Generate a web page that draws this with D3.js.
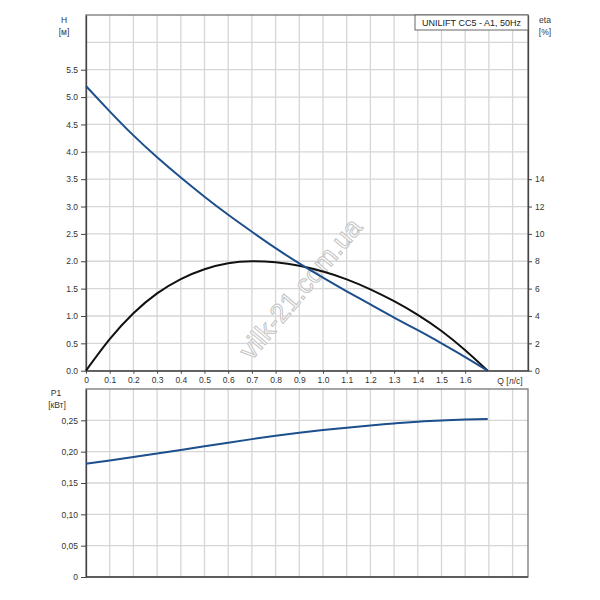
<!DOCTYPE html>
<html><head><meta charset="utf-8">
<script src="https://cdn.jsdelivr.net/npm/d3@7"></script>
<style>body{margin:0;background:#fff}svg{display:block}text{font-family:"Liberation Sans",Arial,sans-serif}</style>
</head><body>
<script>
const qH   = [0, 0.1, 0.2, 0.3, 0.4, 0.5, 0.6, 0.7, 0.8, 0.9, 1.0, 1.1, 1.2, 1.3, 1.4, 1.5, 1.6, 1.695];
const head = [5.2, 4.74, 4.3, 3.9, 3.53, 3.18, 2.85, 2.54, 2.24, 1.96, 1.70, 1.45, 1.21, 0.97, 0.74, 0.50, 0.25, 0];
const eta  = [0, 2.3, 4.2, 5.65, 6.7, 7.42, 7.86, 8.0, 7.92, 7.67, 7.25, 6.68, 5.95, 5.08, 4.08, 2.9, 1.5, 0];
const power = [0.1806, 0.186, 0.1915, 0.1971, 0.2028, 0.2086, 0.2144, 0.22, 0.2253, 0.2301, 0.2344, 0.2383, 0.2419, 0.2451, 0.2478, 0.2499, 0.2513, 0.2521];
const qTicks = [0, 0.1, 0.2, 0.3, 0.4, 0.5, 0.6, 0.7, 0.8, 0.9, 1.0, 1.1, 1.2, 1.3, 1.4, 1.5, 1.6];
const qGrid = [0.1,0.2,0.3,0.4,0.5,0.6,0.7,0.8,0.9,1.0,1.1,1.2,1.3,1.4,1.5,1.6,1.7,1.8];
const hTicks = [0, 0.5, 1.0, 1.5, 2.0, 2.5, 3.0, 3.5, 4.0, 4.5, 5.0, 5.5];
const hGrid = [0.5,1,1.5,2,2.5,3,3.5,4,4.5,5,5.5,6];
const etaTicks = [0, 2, 4, 6, 8, 10, 12, 14];
const pTicks = [0, 0.05, 0.10, 0.15, 0.20, 0.25];
const pLabels = ["0", "0,05", "0,10", "0,15", "0,20", "0,25"];
const title = "UNILIFT CC5 - A1, 50Hz";

const W = 600, H = 600;
const svg = d3.select("body").append("svg").attr("width", W).attr("height", H);
const L = 86, R = 528, T1 = 15, B1 = 370.7, T2 = 389, B2 = 577;
const x = d3.scaleLinear().domain([0, 1.865]).range([L, R]);
const yH = d3.scaleLinear().domain([0, 6.5]).range([B1, T1]);
const yE = d3.scaleLinear().domain([0, 26]).range([B1, T1]);
const yP = d3.scaleLinear().domain([0, 0.3]).range([B2, T2]);
const gridC = "#d6d6d6", axC = "#444", txtC = "#333", fs = 8.5;
const blue = "#1c4f8c";

function grid(top, bottom, yScale, yVals) {
  const g = svg.append("g");
  g.selectAll("line.v").data(qGrid).join("line")
    .attr("x1", d => x(d)).attr("x2", d => x(d)).attr("y1", top).attr("y2", bottom)
    .attr("stroke", gridC).attr("stroke-width", 1.3);
  g.selectAll("line.h").data(yVals).join("line")
    .attr("x1", L).attr("x2", R).attr("y1", d => yScale(d)).attr("y2", d => yScale(d))
    .attr("stroke", gridC).attr("stroke-width", 1.3);
  g.append("rect").attr("x", L).attr("y", top).attr("width", R - L).attr("height", bottom - top)
    .attr("fill", "none").attr("stroke", "#777").attr("stroke-width", 1.3);
}
grid(T1, B1, yH, hGrid);
grid(T2, B2, yP, [0.05, 0.1, 0.15, 0.2, 0.25]);

svg.append("text").attr("transform", "translate(302,290) rotate(-50)")
  .attr("text-anchor", "middle").attr("dominant-baseline", "middle")
  .attr("font-size", 27).attr("fill", "#fff").attr("stroke", "#c4c4c4").attr("stroke-width", 1)
  .text("vilk-21.com.ua");

function styleAxis(g) {
  g.selectAll(".domain").attr("stroke", axC).attr("stroke-width", 1.3);
  g.selectAll(".tick line").attr("stroke", axC);
  g.selectAll("text").attr("fill", txtC).attr("font-size", fs).attr("font-family", '"Liberation Sans",Arial,sans-serif');
}
svg.append("g").attr("transform", `translate(${L},0)`)
  .call(d3.axisLeft(yH).tickValues(hTicks).tickFormat(d3.format(".1f")).tickSize(5).tickPadding(3).tickSizeOuter(0))
  .call(styleAxis);
svg.append("g").attr("transform", `translate(${R},0)`)
  .call(d3.axisRight(yE).tickValues(etaTicks).tickFormat(d3.format("d")).tickSize(4).tickPadding(3).tickSizeOuter(0))
  .call(styleAxis);
svg.append("g").attr("transform", `translate(0,${B1})`)
  .call(d3.axisBottom(x).tickValues(qTicks).tickFormat(d => d === 0 ? "0" : d3.format(".1f")(d)).tickSize(3).tickPadding(3).tickSizeOuter(0))
  .call(styleAxis);
svg.append("g").attr("transform", `translate(${L},0)`)
  .call(d3.axisLeft(yP).tickValues(pTicks).tickFormat((d, i) => pLabels[i]).tickSize(5).tickPadding(3).tickSizeOuter(0))
  .call(styleAxis);
svg.append("line").attr("x1", L).attr("x2", R).attr("y1", B2).attr("y2", B2).attr("stroke", axC).attr("stroke-width", 1.3);

const lab = (t, xx, yy, anchor) => svg.append("text").attr("x", xx).attr("y", yy)
  .attr("text-anchor", anchor || "middle").attr("font-size", fs).attr("fill", txtC).text(t);
lab("H", 64, 23); lab("[м]", 64, 35);
lab("eta", 545, 23); lab("[%]", 545, 35);
lab("P1", 56, 396); lab("[кВт]", 57, 408);
lab("Q [л/с]", 510, 384);

svg.append("rect").attr("x", 415).attr("y", T1).attr("width", R - 415).attr("height", 15)
  .attr("fill", "#fff").attr("stroke", "#666").attr("stroke-width", 1);
svg.append("text").attr("x", 471.5).attr("y", 26).attr("text-anchor", "middle")
  .attr("font-size", 9).attr("fill", "#222").text(title);

const lineH = d3.line().x((d, i) => x(qH[i])).y(d => yH(d)).curve(d3.curveNatural);
const lineE = d3.line().x((d, i) => x(qH[i])).y(d => yE(d)).curve(d3.curveNatural);
const lineP = d3.line().x((d, i) => x(qH[i])).y(d => yP(d)).curve(d3.curveNatural);
svg.append("path").attr("d", lineE(eta)).attr("fill", "none").attr("stroke", "#111").attr("stroke-width", 2);
svg.append("path").attr("d", lineH(head)).attr("fill", "none").attr("stroke", blue).attr("stroke-width", 2);
svg.append("path").attr("d", lineP(power)).attr("fill", "none").attr("stroke", blue).attr("stroke-width", 2);
</script>
</body></html>
